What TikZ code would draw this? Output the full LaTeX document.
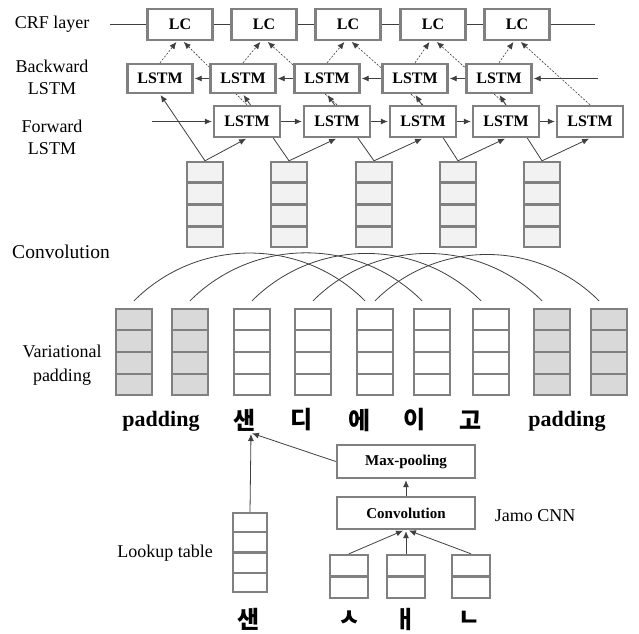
\documentclass[tikz,border=0pt]{standalone}
\usepackage{fontspec}
\setmainfont{Liberation Serif}
\newfontfamily\krfont{Noto Sans CJK KR}
\usetikzlibrary{arrows.meta,calc,backgrounds}

\definecolor{boxgray}{HTML}{808080}
\definecolor{linegray}{HTML}{3F3F3F}
\definecolor{cellfill}{HTML}{F2F2F2}
\definecolor{padfill}{HTML}{D9D9D9}

\tikzset{
  unit/.style={draw=boxgray, line width=2.4pt, fill=white, inner sep=0pt,
    font=\fontsize{16}{16}\selectfont\bfseries},
  vec/.style={draw=boxgray, line width=2.4pt, inner sep=0pt,
    minimum width=36pt, minimum height=86pt},
  divider/.style={boxgray, line width=2.4pt},
  conn/.style={linegray, line width=0.8pt},
  arr/.style={conn, shorten >=1pt, -{Latex[length=7pt,width=6pt]}},
  dotarr/.style={linegray, line width=0.6pt, dash pattern=on 2pt off 1.5pt,
    shorten >=1pt, -{Latex[length=7pt,width=6pt]}},
  lab/.style={font=\fontsize{18}{22}\selectfont, align=center},
  word/.style={font=\fontsize{22}{22}\selectfont\bfseries},
  hangul/.style={font=\krfont\fontsize{24}{24}\selectfont\bfseries},
}

\begin{document}
\begin{tikzpicture}[x=1pt,y=-1pt]
    \useasboundingbox (0,0) rectangle (639,633);

    % Labels on the left
    \node[lab] (crf) at (52,24) {CRF layer};
    \node[lab] (bwd) at (52,77) {Backward\\LSTM};
    \node[lab] (fwd) at (52,137) {Forward\\LSTM};
    \node[lab, font=\fontsize{19.5}{22}\selectfont] (convlab) at (61,252) {Convolution};
    \node[lab, font=\fontsize{18}{24}\selectfont] (vpad) at (62,365) {Variational\\padding};
    \node[lab] (look) at (165,553) {Lookup table};
    \node[lab] (jamo) at (535,516) {Jamo CNN};

    % CRF, backward and forward rows
    \foreach \x/\i in {180/1, 264/2, 348/3, 433/4, 517/5}
        \node[unit, minimum width=65pt, minimum height=31pt] (lc\i) at (\x,24.5) {LC};
    \foreach \x/\i in {160/1, 243/2, 327/3, 415/4, 499/5}
        \node[unit, minimum width=65pt, minimum height=29pt] (bl\i) at (\x,78.5) {LSTM};
    \foreach \x/\i in {247/1, 337/2, 423/3, 506/4, 590/5}
        \node[unit, minimum width=66pt, minimum height=31pt] (fl\i) at (\x,121.5) {LSTM};

    % Convolution outputs
    \foreach \x/\i in {205/1, 289/2, 374/3, 458/4, 542/5} {
        \node[vec, fill=cellfill, minimum height=85pt] (cv\i) at (\x,204.5) {};
        \foreach \k in {1,2,3}
            \draw[divider] ($(cv\i.north west)!\k/4!(cv\i.south west)$) -- ($(cv\i.north east)!\k/4!(cv\i.south east)$);
    }

    % Padded sequence
    \foreach \x/\i/\c in {134/1/padfill, 190/2/padfill, 252/3/white, 313/4/white, 375/5/white,
                          432/6/white, 491/7/white, 552/8/padfill, 609/9/padfill} {
        \node[vec, fill=\c] (pv\i) at (\x,352) {};
        \foreach \k in {1,2,3}
            \draw[divider] ($(pv\i.north west)!\k/4!(pv\i.south west)$) -- ($(pv\i.north east)!\k/4!(pv\i.south east)$);
    }
    \node[word] (w1) at (161,421) {padding};
    \foreach \x/\i/\t in {245/2/샌, 302/3/디, 360/4/에, 415/5/이, 471/6/고}
        \node[hangul] (w\i) at (\x,420) {\t};
    \node[word] (w7) at (567,421) {padding};

    % Jamo CNN
    \node[unit, font=\fontsize{15}{15}\selectfont\bfseries, minimum width=138pt, minimum height=33pt] (pool) at (406,461.5) {Max-pooling};
    \node[unit, font=\fontsize{15}{15}\selectfont\bfseries, minimum width=138pt, minimum height=32pt] (cnn) at (406,513) {Convolution};
    \node[vec, fill=white, minimum width=34pt, minimum height=79pt] (lut) at (250,552.5) {};
    \foreach \k in {1,2,3}
        \draw[divider] ($(lut.north west)!\k/4!(lut.south west)$) -- ($(lut.north east)!\k/4!(lut.south east)$);
    \foreach \x/\i in {349/1, 406/2, 471/3} {
        \node[vec, fill=white, minimum width=38pt, minimum height=43pt] (jm\i) at (\x,576.5) {};
        \draw[divider] (jm\i.west) -- (jm\i.east);
    }
    \node[hangul] (s0) at (249,619) {샌};
    \foreach \x/\i/\t in {350/1/ㅅ, 406/2/ㅐ, 470/3/ㄴ}
        \node[hangul] (s\i) at (\x,619) {\t};
    \coordinate (emb) at (251,433);

    \begin{pgfonlayer}{background}
        % CRF chain
        \coordinate (crfl) at (110,24.5);
        \coordinate (crfr) at (595,24.5);
        \draw[conn, line width=1pt] (crfl) -- (lc1);
        \foreach \i/\j in {1/2, 2/3, 3/4, 4/5}
            \draw[conn, line width=1pt] (lc\i) -- (lc\j);
        \draw[conn, line width=1pt] (lc5) -- (crfr);

        % Backward chain
        \coordinate (bin) at (598,78.5);
        \draw[arr] (bin) -- (bl5);
        \foreach \i/\j in {5/4, 4/3, 3/2, 2/1}
            \draw[arr] (bl\i) -- (bl\j);

        % Forward chain
        \coordinate (fin) at (152,121.5);
        \draw[arr] (fin) -- (fl1);
        \foreach \i/\j in {1/2, 2/3, 3/4, 4/5}
            \draw[arr] (fl\i) -- (fl\j);

        % Into the LC units
        \foreach \i in {1,...,5} {
            \draw[dotarr] (bl\i.north) -- ([xshift=-3pt]lc\i.south);
            \draw[dotarr] (fl\i.north) -- ([xshift=3pt]lc\i.south);
            \draw[arr] (cv\i.north) -- (fl\i.south);
            \draw[arr] (cv\i.north) -- (bl\i.south);
        }

        % Convolution windows
        \foreach \a/\b in {1/5, 2/6, 3/7, 4/8, 5/9}
            \draw[conn] ([yshift=7pt]pv\a.north) to[out=45,in=135] ([xshift=-10pt,yshift=7pt]pv\b.north);

        % Character embedding
        \draw[arr] (lut.north) -- (emb);
        \draw[arr] (pool.west) -- (emb);
        \draw[arr] (cnn.north) -- (pool.south);
        \draw[arr] (jm1.north) -- ([xshift=-2pt]cnn.south);
        \draw[arr] (jm2.north) -- (cnn.south);
        \draw[arr] (jm3.north) -- ([xshift=2pt]cnn.south);
    \end{pgfonlayer}
\end{tikzpicture}
\end{document}
